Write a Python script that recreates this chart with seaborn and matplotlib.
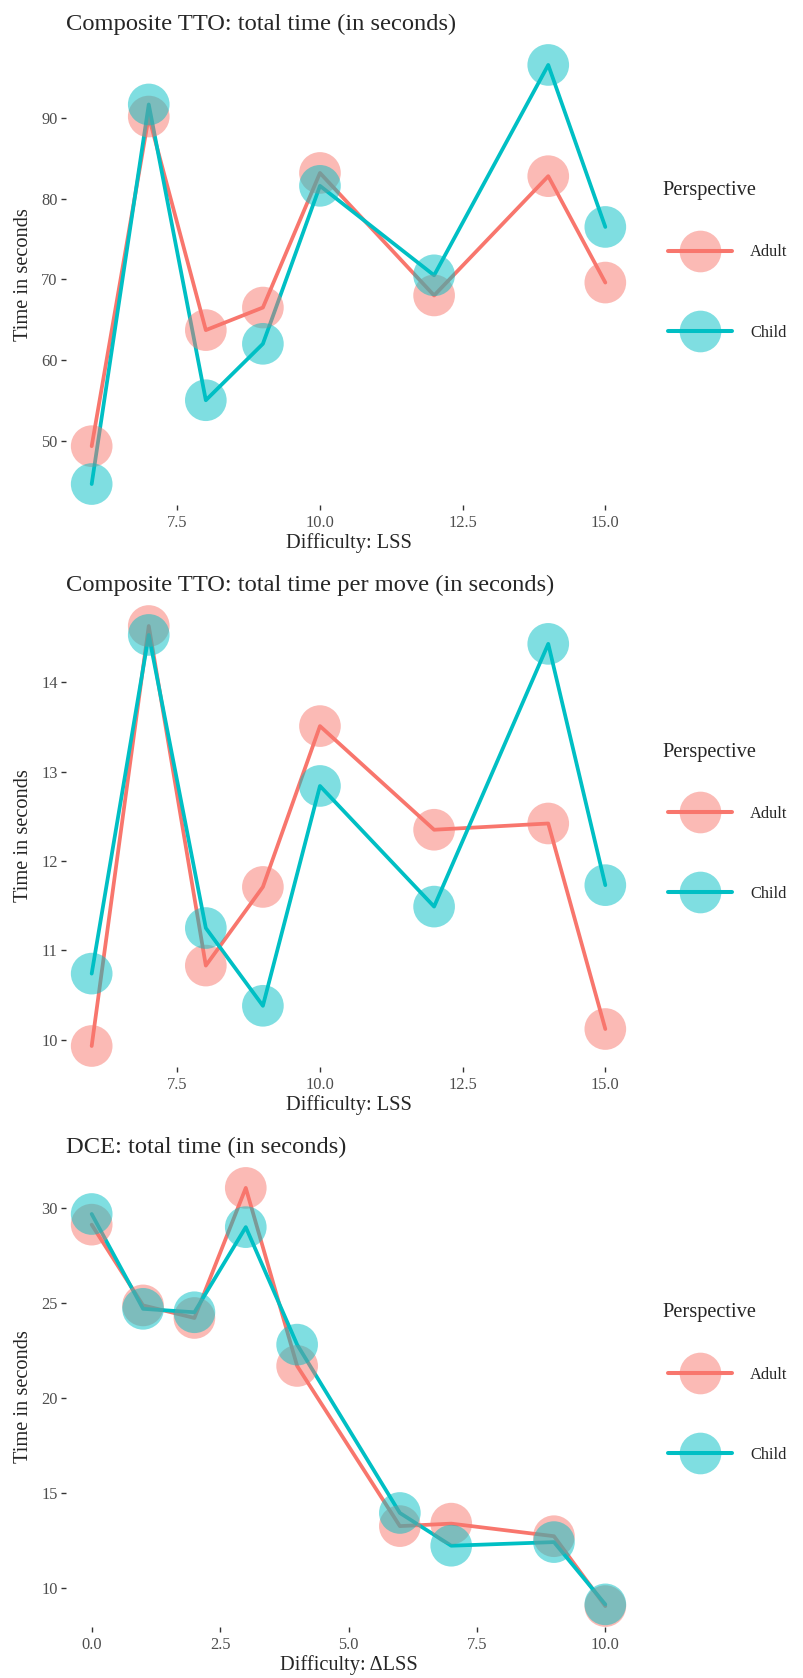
"""Response time by difficulty, adult vs child perspective"""

import pandas as pd
import matplotlib
matplotlib.use('Agg')
import matplotlib.pyplot as plt
import seaborn as sns
from matplotlib.lines import Line2D
from matplotlib.legend_handler import HandlerTuple
from matplotlib.ticker import MultipleLocator, FormatStrFormatter

# data ---------------------------------------------------------------
lss_tto = [6, 7, 8, 9, 10, 12, 14, 15]
tto_total_adult = [49.3, 90.2, 63.7, 66.5, 83.2, 68.0, 82.8, 69.6]
tto_total_child = [44.6, 91.7, 55.0, 62.0, 81.6, 70.5, 96.6, 76.5]
tto_move_adult = [9.93, 14.63, 10.83, 11.71, 13.51, 12.35, 12.42, 10.12]
tto_move_child = [10.74, 14.53, 11.25, 10.38, 12.84, 11.49, 14.43, 11.73]
dlss_dce = [0, 1, 2, 3, 4, 6, 7, 9, 10]
dce_adult = [29.1, 24.86, 24.2, 31.03, 21.68, 13.27, 13.4, 12.74, 9.07]
dce_child = [29.66, 24.68, 24.5, 28.97, 22.8, 13.96, 12.24, 12.43, 9.16]
groups = ['Adult', 'Child']

PALETTE = {'Adult': '#F8766D', 'Child': '#00BFC4'}
W, H = 804, 1678
BASE = 14.7  # ggplot base size, pt

sns.set_theme(style='white')
plt.rcParams['font.family'] = ['Liberation Serif', 'DejaVu Serif']


def frame(x, adult, child):
    return pd.DataFrame({
        'x': list(x) * 2,
        'y': list(adult) + list(child),
        'Perspective': ['Adult'] * len(x) + ['Child'] * len(x),
    })


PANELS = [
    ('Composite TTO: total time (in seconds)', 'Difficulty: LSS',
     frame(lss_tto, tto_total_adult, tto_total_child), 44, 505, 10),
    ('Composite TTO: total time per move (in seconds)', 'Difficulty: LSS',
     frame(lss_tto, tto_move_adult, tto_move_child), 605, 1067, 1),
    ('DCE: total time (in seconds)', 'Difficulty: \u0394LSS',
     frame(dlss_dce, dce_adult, dce_child), 1167, 1627, 5),
]

fig = plt.figure(figsize=(W / 100, H / 100), dpi=100)

for title, xlabel, df, top, bottom, ystep in PANELS:
    ax = fig.add_axes([66 / W, 1 - bottom / H, 565 / W, (bottom - top) / H])
    sns.lineplot(data=df, x='x', y='y', hue='Perspective', palette=PALETTE,
                 lw=2.7, ax=ax, legend=False, errorbar=None, zorder=1)
    sns.scatterplot(data=df, x='x', y='y', hue='Perspective', palette=PALETTE,
                    s=900, alpha=0.5, edgecolor='none', ax=ax, legend=False,
                    zorder=2)

    # ggplot-like 5% expansion
    xmin, xmax = df['x'].min(), df['x'].max()
    ymin, ymax = df['y'].min(), df['y'].max()
    dx, dy = (xmax - xmin) * 0.05, (ymax - ymin) * 0.05
    ax.set_xlim(xmin - dx, xmax + dx)
    ax.set_ylim(ymin - dy, ymax + dy)
    ax.xaxis.set_major_locator(MultipleLocator(2.5))
    ax.xaxis.set_major_formatter(FormatStrFormatter('%.1f'))
    ax.yaxis.set_major_locator(MultipleLocator(ystep))
    ax.yaxis.set_major_formatter(FormatStrFormatter('%d'))

    for s in ax.spines.values():
        s.set_visible(False)
    ax.grid(False)
    ax.tick_params(axis='both', length=3.5, width=1.0, color='#333333',
                   labelcolor='#4D4D4D', labelsize=BASE * 0.8, pad=2.5,
                   left=True, bottom=True)
    ax.tick_params(axis='x', pad=4)
    ax.set_title(title, loc='left', fontsize=BASE * 1.2, pad=10)
    ax.set_xlabel(xlabel, fontsize=BASE, labelpad=1.5)
    ax.set_ylabel('Time in seconds', fontsize=BASE, labelpad=6)

    # legend on the right, title as separate text
    mid = (top + bottom) / 2
    fig.text(662 / W, 1 - (mid - 84) / H, 'Perspective', fontsize=BASE,
             ha='left', va='center')
    handles = []
    for g in groups:
        dot = Line2D([], [], ls='none', marker='o', markersize=30,
                     markerfacecolor=PALETTE[g], markeredgecolor='none',
                     alpha=0.5)
        line = Line2D([], [], color=PALETTE[g], lw=2.9)
        handles.append((dot, line))
    fig.legend(handles, groups, loc='center left',
               bbox_to_anchor=(668 / W, 1 - (mid + 18) / H), frameon=False,
               fontsize=BASE * 0.8, handlelength=3.94, handletextpad=1.1,
               labelspacing=3.94, borderpad=0, borderaxespad=0,
               handler_map={tuple: HandlerTuple(ndivide=1)})

fig.savefig('out.png', dpi=100, facecolor='white')
